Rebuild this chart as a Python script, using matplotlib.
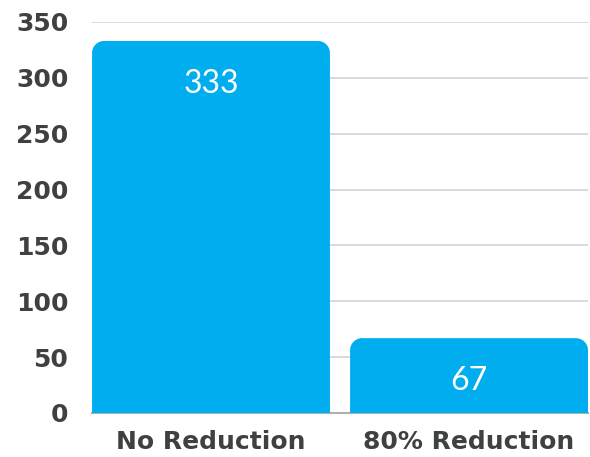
import matplotlib
matplotlib.use("Agg")
import matplotlib.pyplot as plt
from matplotlib.path import Path
from matplotlib.patches import PathPatch

categories = ["No Reduction", "80% Reduction"]
values = [333, 67]
yticks = [0, 50, 100, 150, 200, 250, 300, 350]

bar_color = "#00AEEF"
text_color = "#3f4140"


def top_rounded(x0, x1, h, rx, ry):
    # bar outline with only the two top corners rounded
    k = 0.5523
    verts = [(x0, 0), (x0, h - ry),
             (x0, h - ry + k * ry), (x0 + rx - k * rx, h), (x0 + rx, h),
             (x1 - rx, h),
             (x1 - rx + k * rx, h), (x1, h - ry + k * ry), (x1, h - ry),
             (x1, 0), (x0, 0)]
    codes = [Path.MOVETO, Path.LINETO,
             Path.CURVE4, Path.CURVE4, Path.CURVE4,
             Path.LINETO,
             Path.CURVE4, Path.CURVE4, Path.CURVE4,
             Path.LINETO, Path.CLOSEPOLY]
    return Path(verts, codes)


fig = plt.figure(figsize=(5.9, 4.57), dpi=100)
ax = fig.add_axes([0.156, 0.0963, 0.8406, 0.8556])

width = 0.922
ax.set_xlim(-width / 2, len(categories) - 1 + width / 2)
ax.set_ylim(0, 350)

# horizontal guide lines behind the bars
for t in yticks[1:]:
    ax.axhline(t, color="#d3d3d3", linewidth=1.2, zorder=1)

# plain bars give the positions, rounded patches go on top
bars = ax.bar(range(len(categories)), values, width=width, color="none", zorder=2)
r_x = 0.047
r_y = 10.8
for b in bars:
    x0, w, h = b.get_x(), b.get_width(), b.get_height()
    p = PathPatch(top_rounded(x0, x0 + w, h, r_x, r_y),
                  facecolor=bar_color, edgecolor="none", zorder=5)
    ax.add_patch(p)

for i, v in enumerate(values):
    ax.annotate(str(v), (i, v), xytext=(0, -31), textcoords="offset points",
                ha="center", va="center", color="white", fontsize=23,
                family="Lato", fontweight="normal", zorder=6)

ax.set_yticks(yticks)
ax.set_xticks(range(len(categories)))
ax.set_xticklabels(categories)
for s in ["left", "right", "top"]:
    ax.spines[s].set_visible(False)
ax.spines["bottom"].set_color("#b0b0b0")
ax.spines["bottom"].set_linewidth(1.5)
ax.spines["bottom"].set_zorder(4)
ax.tick_params(length=0)
ax.tick_params(axis="y", pad=17)
ax.tick_params(axis="x", pad=12)
for lab in ax.get_yticklabels() + ax.get_xticklabels():
    lab.set_family("DejaVu Sans")
    lab.set_fontweight("bold")
    lab.set_fontsize(18)
    lab.set_color(text_color)

fig.savefig("out.png", dpi=100)
